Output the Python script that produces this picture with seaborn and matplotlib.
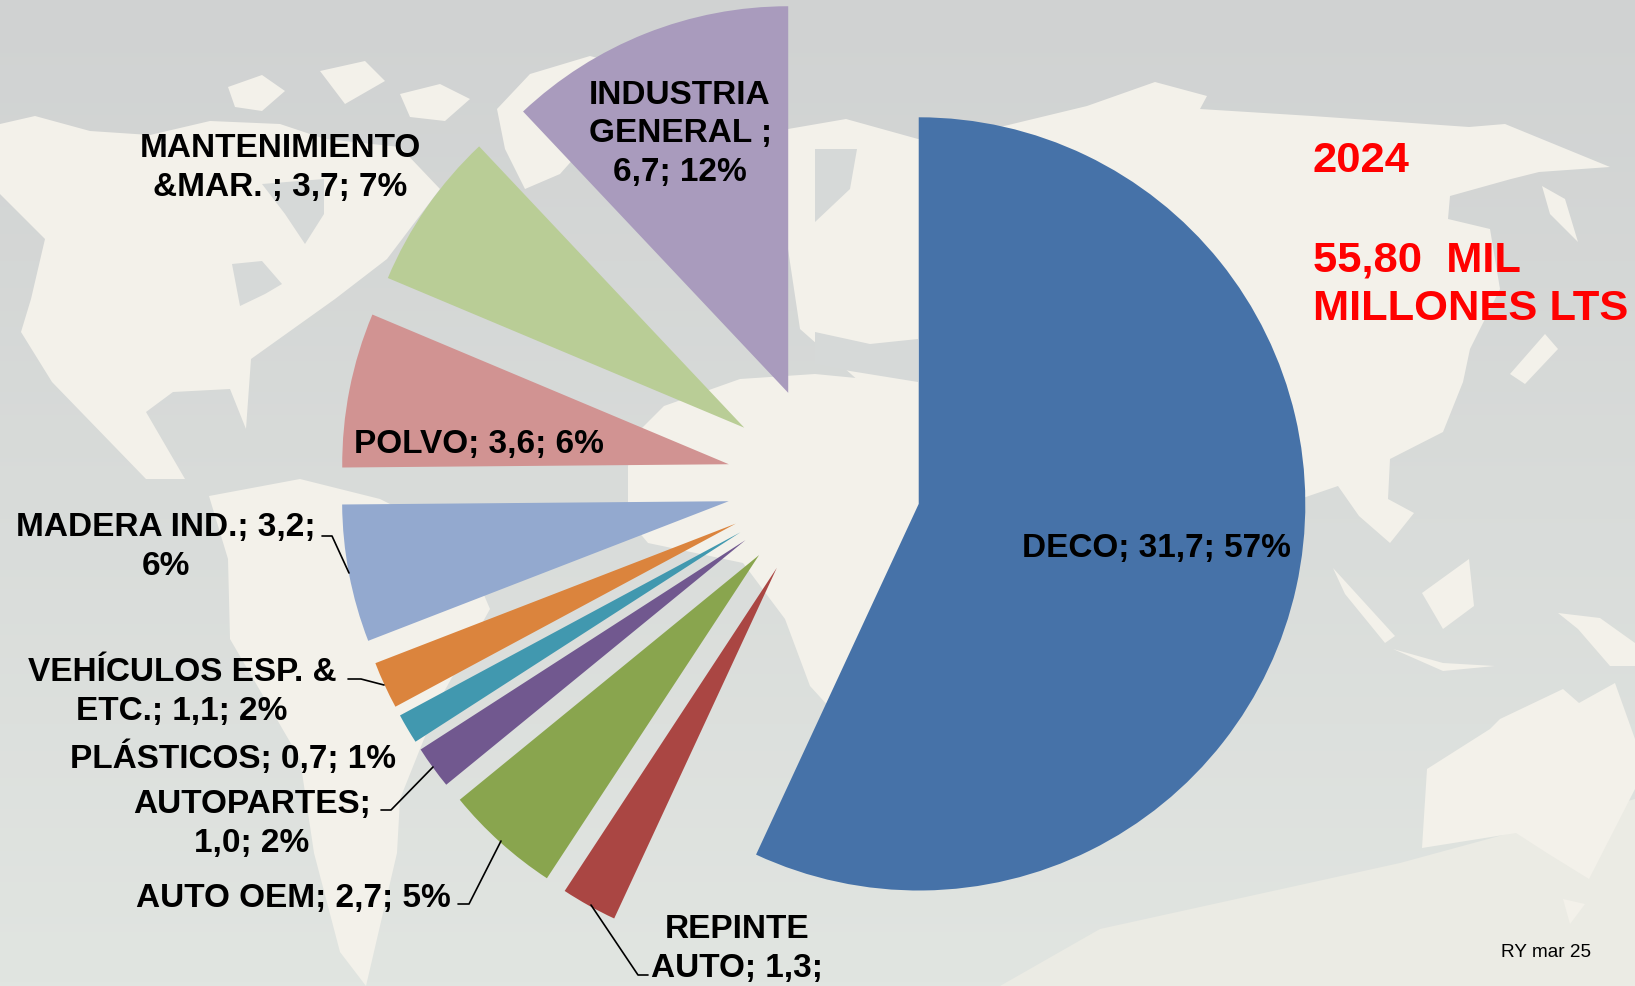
import numpy as np
import seaborn as sns
import matplotlib
matplotlib.use('Agg')
import matplotlib.pyplot as plt

categories = ['DECO', 'REPINTE AUTO', 'AUTO OEM', 'AUTOPARTES', 'PLÁSTICOS',
              'VEHÍCULOS ESP. & ETC.', 'MADERA IND.', 'POLVO', 'MANTENIMIENTO &MAR.', 'INDUSTRIA GENERAL']
values = [31.7, 1.3, 2.7, 1.0, 0.7, 1.1, 3.2, 3.6, 3.7, 6.7]
colors = ['#4672A8', '#AA4643', '#89A54E', '#71588F', '#4198AF',
          '#DB843D', '#93A9CF', '#D19392', '#B9CD96', '#A99BBD']

label_texts = ['DECO; 31,7; 57%', 'REPINTE\nAUTO; 1,3;', 'AUTO OEM; 2,7; 5%', 'AUTOPARTES;\n1,0; 2%',
               'PLÁSTICOS; 0,7; 1%', 'VEHÍCULOS ESP. &\nETC.; 1,1; 2%', 'MADERA IND.; 3,2;\n6%',
               'POLVO; 3,6; 6%', 'MANTENIMIENTO\n&MAR. ; 3,7; 7%', 'INDUSTRIA\nGENERAL ;\n6,7; 12%']
label_x = [1156, 737, 293, 252, 233, 182, 166, 479, 280, 680]
label_y = [549, 949, 899, 824, 758, 692, 547, 445, 168, 134]

leaders = [[(648, 976), (638, 976), (591, 906)],
           [(458, 905), (469, 905), (501, 842)],
           [(381, 811), (391, 811), (433, 768)],
           [(348, 680), (361, 680), (384, 686)],
           [(322, 537), (332, 537), (349, 574)]]

# rough world map behind the pie, in picture pixels
land = [
    [(0, 125), (35, 117), (90, 132), (150, 136), (210, 122), (280, 125), (325, 140), (400, 148), (440, 190),
     (387, 260), (335, 300), (251, 360), (246, 430), (230, 390), (173, 393), (146, 413), (185, 480), (146, 480),
     (52, 383), (21, 333), (31, 300), (45, 240), (0, 195)],
    [(497, 110), (530, 75), (590, 57), (640, 70), (600, 130), (560, 175), (525, 190), (505, 150)],
    [(228, 88), (262, 76), (285, 92), (262, 112), (235, 108)],
    [(320, 72), (365, 62), (385, 82), (345, 105)],
    [(400, 95), (440, 85), (470, 100), (445, 122), (410, 118)],
    [(209, 497), (300, 480), (380, 500), (460, 540), (490, 610), (440, 700), (400, 800), (397, 854), (366, 987),
     (340, 953), (314, 854), (300, 760), (230, 640), (228, 560)],
    [(664, 407), (638, 433), (628, 467), (628, 520), (648, 544), (743, 564), (785, 620), (810, 687), (840, 720),
     (920, 700), (1000, 500), (1000, 380), (918, 385), (815, 375), (740, 380)],
    [(788, 130), (846, 120), (918, 140), (1000, 128), (1087, 107), (1155, 83), (1207, 97), (1200, 110), (1312, 117),
     (1469, 128), (1505, 125), (1610, 168), (1539, 173), (1511, 180), (1450, 197), (1448, 220), (1490, 230),
     (1500, 290), (1470, 350), (1463, 383), (1443, 433), (1390, 460), (1388, 500), (1414, 514), (1390, 544),
     (1359, 517), (1338, 487), (1300, 500), (1200, 520), (1000, 520), (918, 400), (860, 383), (800, 330), (788, 250)],
    [(1542, 187), (1565, 200), (1578, 243), (1550, 215)],
    [(1510, 375), (1545, 335), (1558, 350), (1525, 385)],
    [(1333, 569), (1395, 637), (1385, 644), (1345, 595)],
    [(1422, 594), (1469, 560), (1474, 607), (1443, 630)],
    [(1393, 650), (1443, 664), (1495, 667), (1443, 672)],
    [(1558, 614), (1600, 619), (1635, 644), (1635, 667), (1610, 667), (1578, 630)],
    [(1427, 770), (1490, 730), (1500, 720), (1563, 690), (1579, 704), (1615, 684), (1635, 740), (1635, 790),
     (1589, 880), (1547, 854), (1516, 834), (1422, 849)],
    [(1563, 900), (1585, 905), (1570, 925)],
]
water = [
    [(262, 185), (324, 180), (324, 215), (305, 245), (285, 215)],
    [(232, 265), (262, 262), (282, 285), (265, 295), (240, 307)],
    [(815, 150), (857, 150), (850, 190), (815, 223)],
    [(815, 333), (870, 345), (918, 340), (918, 383), (850, 372), (815, 365)],
]
south_ice = [(1000, 987), (1100, 930), (1400, 864), (1635, 800), (1635, 987)]

W, H = 1635, 987


def flip(points):
    return [p[0] for p in points], [H - p[1] for p in points]


sns.set_theme(style='white')
plt.rcParams['font.family'] = ['Liberation Sans', 'DejaVu Sans']

fig = plt.figure(figsize=(W / 100, H / 100), dpi=100)
ax = fig.add_axes([0, 0, 1, 1])

# background gradient
top = np.array([208, 210, 210]) / 255
bottom = np.array([225, 229, 225]) / 255
grad = np.linspace(0, 1, 256)[:, None, None]
sky = top + (bottom - top) * grad
ax.imshow(sky, extent=(0, W, 0, H), origin='upper', aspect='auto', zorder=0)

x, y = flip(south_ice)
ax.fill(x, y, color='#EBEBE4', lw=0, zorder=1)
for poly in land:
    x, y = flip(poly)
    ax.fill(x, y, color='#F3F1EA', lw=0, zorder=1)
for poly in water:
    x, y = flip(poly)
    ax.fill(x, y, color='#D6D9D8', lw=0, zorder=1)

palette = sns.color_palette(colors)
# explode is in data units here, the axes run in pixels
wedges, _ = ax.pie(values, colors=palette, explode=[97] * len(values), startangle=90, counterclock=False,
                   center=(824, H - 484), radius=386.6, frame=True, wedgeprops={'linewidth': 0, 'zorder': 2})

for line in leaders:
    x, y = flip(line)
    ax.plot(x, y, color='black', lw=1.2, zorder=3)

for text, tx, ty in zip(label_texts, label_x, label_y):
    ax.text(tx, H - ty, text, ha='center', va='center', ma='center', fontsize=24, fontweight='bold',
            color='black', linespacing=1.3, zorder=4)

ax.text(1313, H - 161, '2024', color='#FF0000', fontsize=31.3, fontweight='bold', va='center', zorder=4)
ax.text(1313, H - 261, '55,80  MIL', color='#FF0000', fontsize=31.3, fontweight='bold', va='center', zorder=4)
ax.text(1313, H - 309, 'MILLONES LTS', color='#FF0000', fontsize=31.3, fontweight='bold', va='center', zorder=4)
ax.text(1501, H - 953, 'RY mar 25', color='black', fontsize=13.7, va='center', zorder=4)

ax.set_xlim(0, W)
ax.set_ylim(0, H)
ax.axis('off')
fig.savefig('out.png', dpi=100)
